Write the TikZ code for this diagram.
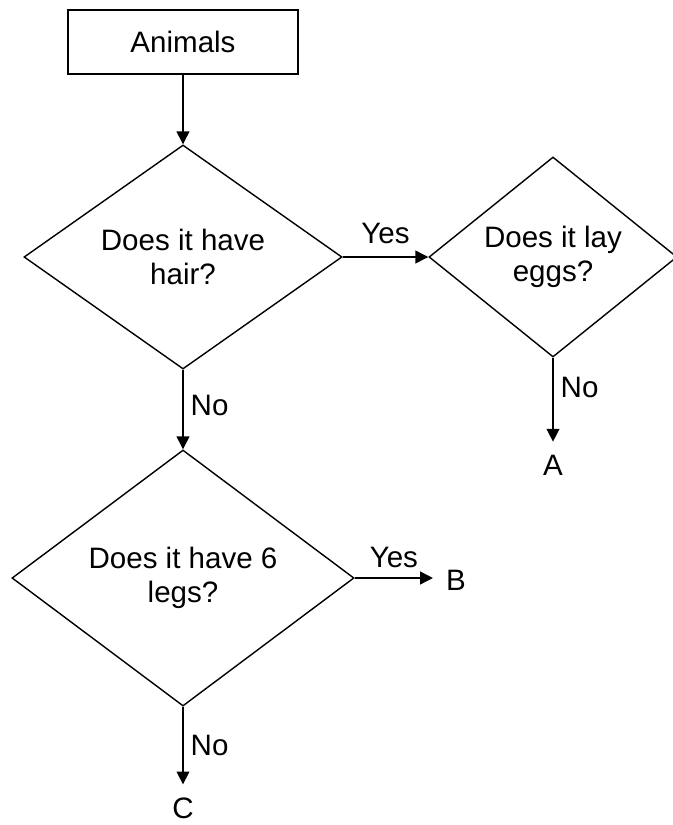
\documentclass[tikz,border=0pt]{standalone}
\usepackage{fontspec}
\setmainfont{Liberation Sans}
\usetikzlibrary{arrows.meta,shapes.geometric}

\begin{document}
\begin{tikzpicture}[x=0.025cm, y=-0.025cm,
		every node/.style={font=\fontsize{21}{24}\selectfont},
		box/.style={draw, line width=1pt, minimum width=5.75cm, minimum height=1.6cm, inner sep=0pt},
		question/.style={draw, diamond, line width=1pt, inner sep=0pt, align=center},
		flow/.style={line width=1pt, -{Triangle[length=0.32cm, width=0.32cm]}},
		lbl/.style={inner sep=5pt},
		endlbl/.style={inner sep=0pt, outer sep=0.33cm}]
			%%%%% START %%%%%
			
			\useasboundingbox (0, 0) rectangle (673, 825);
			
			\node[box] (animals) at (183, 42) {Animals};
			
			\node[question, minimum width=7.95cm, minimum height=5.6cm] (hair) at (183, 257) {Does it have\\hair?};
			\node[question, minimum width=6.2cm, minimum height=5cm] (eggs) at (553, 257) {Does it lay\\eggs?};
			\node[question, minimum width=8.55cm, minimum height=6.4cm] (legs) at (183, 578) {Does it have 6\\legs?};
			
			\node[endlbl] (A) at (553, 465) {A};
			\node[endlbl] (B) at (456, 580) {B};
			\node[endlbl] (C) at (183, 808) {C};
			
			\draw[flow] (animals.south) -- (hair.north);
			\draw[flow] (hair.east) -- node[lbl, above=4pt] {Yes} (eggs.west);
			\draw[flow] (eggs.south) -- node[lbl, right, pos=0.35] {No} (A.north);
			\draw[flow] (hair.south) -- node[lbl, right, pos=0.45] {No} (legs.north);
			\draw[flow] (legs.east) -- node[lbl, above=2pt] {Yes} (legs.east -| B.west);
			\draw[flow] (legs.south) -- node[lbl, right] {No} (C.north);
			
			%%%%% END %%%%%
		\end{tikzpicture}
\end{document}
